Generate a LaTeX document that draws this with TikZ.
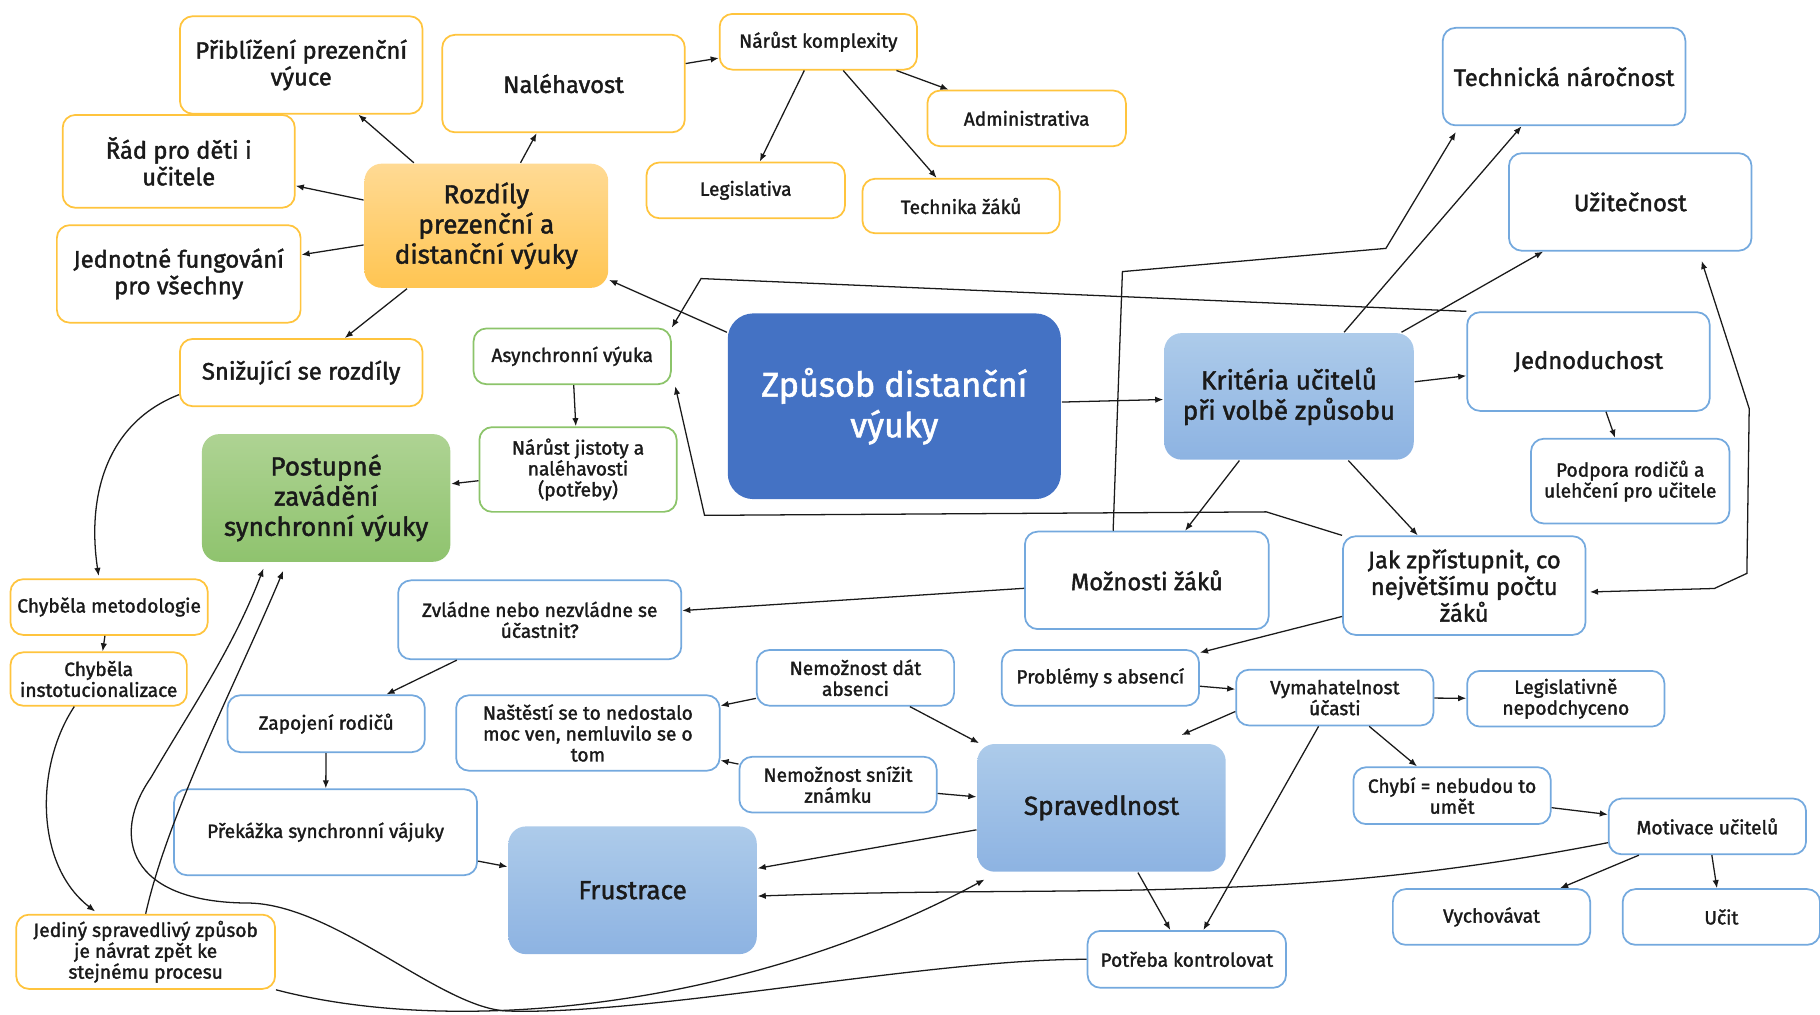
\documentclass[tikz,border=0pt]{standalone}
\usepackage{fontspec}
\setmainfont{Fira Sans}[FakeBold=1.6]
\usetikzlibrary{arrows.meta,calc}

\definecolor{ornline}{HTML}{FFC43D}
\definecolor{bluline}{HTML}{74A9DE}
\definecolor{grnline}{HTML}{8CC46A}
\definecolor{orntop}{HTML}{FFDA94}
\definecolor{ornbot}{HTML}{FFC552}
\definecolor{grntop}{HTML}{AED393}
\definecolor{grnbot}{HTML}{8FC36E}
\definecolor{blutop}{HTML}{ADCBEA}
\definecolor{blubot}{HTML}{8DB3E2}
\definecolor{deepblue}{HTML}{4472C4}
\definecolor{ink}{HTML}{1A1A1A}

\tikzset{
  box/.style={rounded corners=11pt, line width=1.5pt, align=center, inner sep=2pt, text=ink},
  obox/.style={box, draw=ornline, fill=white},
  bbox/.style={box, draw=bluline, fill=white},
  gbox/.style={box, draw=grnline, fill=white},
  ofill/.style={box, rounded corners=15pt, draw=none, top color=orntop, bottom color=ornbot},
  gfill/.style={box, rounded corners=15pt, draw=none, top color=grntop, bottom color=grnbot},
  bfill/.style={box, rounded corners=15pt, draw=none, top color=blutop, bottom color=blubot},
  fs/.style={font=\fontsize{16.5}{18}\selectfont},
  fm/.style={font=\fontsize{20.5}{23}\selectfont},
  fl/.style={font=\fontsize{22.5}{26}\selectfont},
  fh/.style={font=\fontsize{29.5}{35}\selectfont},
  arr/.style={line width=1.1pt, draw=ink, -{Latex[length=7pt,width=5.5pt]}},
  dbl/.style={line width=1.1pt, draw=ink, {Latex[length=7pt,width=5.5pt]}-{Latex[length=7pt,width=5.5pt]}},
}

\begin{document}
\begin{tikzpicture}[x=1pt,y=-1pt]
\useasboundingbox (0,0) rectangle (1568,874);

% --- differences between in-person and distance teaching (orange)
\node[obox,fm,minimum width=209pt,minimum height=84pt] (pribl) at (259.5,56) {Přiblížení prezenční\\výuce};
\node[obox,fm,minimum width=209pt,minimum height=84pt] (nal) at (485.5,72) {Naléhavost};
\node[obox,fs,minimum width=170pt,minimum height=48pt] (narust) at (705,36) {Nárůst komplexity};
\node[obox,fs,minimum width=171pt,minimum height=48pt] (admin) at (884.5,102) {Administrativa};
\node[obox,fs,minimum width=171pt,minimum height=48pt] (legis) at (642.5,164) {Legislativa};
\node[obox,fs,minimum width=170pt,minimum height=47pt] (techz) at (828,177.5) {Technika žáků};
\node[obox,fm,minimum width=200pt,minimum height=80pt] (rad) at (154,139) {Řád pro děti i\\učitele};
\node[ofill,fl,minimum width=210pt,minimum height=107pt] (rozd) at (419,194.5) {Rozdíly\\prezenční a\\distanční výuky};
\node[obox,fm,minimum width=210pt,minimum height=84pt] (jedn) at (154,236) {Jednotné fungování\\pro všechny};
\node[obox,fm,minimum width=209pt,minimum height=58pt] (sniz) at (259.5,321) {Snižující se rozdíly};
\node[obox,fs,minimum width=170pt,minimum height=48pt] (chmet) at (94,523) {Chyběla metodologie};
\node[obox,fs,minimum width=152pt,minimum height=46pt] (chinst) at (85,585) {Chyběla\\instotucionalizace};
\node[obox,fs,minimum width=223pt,minimum height=64pt] (jediny) at (125.5,820) {Jediný spravedlivý způsob\\je návrat zpět ke\\stejnému procesu};

% --- synchronous teaching (green)
\node[gbox,fs,minimum width=170pt,minimum height=48pt] (async) at (493,307) {Asynchronní výuka};
\node[gbox,fs,minimum width=170pt,minimum height=73pt] (jist) at (498,404.5) {Nárůst jistoty a\\naléhavosti\\(potřeby)};
\node[gfill,fl,minimum width=214pt,minimum height=110pt] (post) at (281,429) {Postupné\\zavádění\\synchronní výuky};

% --- central topic
\node[box,rounded corners=22pt,draw=none,fill=deepblue,text=white,fh,minimum width=287pt,minimum height=160pt] (zpus) at (770.5,350) {Způsob distanční\\výuky};

% --- teachers' criteria (blue)
\node[bfill,fl,minimum width=215pt,minimum height=109pt] (krit) at (1110.5,341.5) {Kritéria učitelů\\při volbě způsobu};
\node[bbox,fm,minimum width=209pt,minimum height=84pt] (tech) at (1347.5,66) {Technická náročnost};
\node[bbox,fm,minimum width=209pt,minimum height=84pt] (uzit) at (1404.5,174) {Užitečnost};
\node[bbox,fm,minimum width=209pt,minimum height=85pt] (jedno) at (1368.5,311.5) {Jednoduchost};
\node[bbox,fs,minimum width=171pt,minimum height=73pt] (podp) at (1404.5,414.5) {Podpora rodičů a\\ulehčení pro učitele};
\node[bbox,fm,minimum width=209pt,minimum height=85pt] (jak) at (1261.5,504.5) {Jak zpřístupnit, co\\největšímu počtu\\žáků};
\node[bbox,fm,minimum width=210pt,minimum height=84pt] (mozn) at (988,500) {Možnosti žáků};
\node[bbox,fs,minimum width=244pt,minimum height=68pt] (zvl) at (465,534) {Zvládne nebo nezvládne se\\účastnit?};
\node[bbox,fs,minimum width=170pt,minimum height=49pt] (zap) at (281,623.5) {Zapojení rodičů};
\node[bbox,fs,minimum width=227pt,minimum height=65pt] (nast) at (506.5,631.5) {Naštěstí se to nedostalo\\moc ven, nemluvilo se o\\tom};
\node[bbox,fs,minimum width=170pt,minimum height=48pt] (nemd) at (737,584) {Nemožnost dát\\absenci};
\node[bbox,fs,minimum width=170pt,minimum height=48pt] (nems) at (722,676) {Nemožnost snížit\\známku};
\node[bbox,fs,minimum width=170pt,minimum height=48pt] (prob) at (948,584) {Problémy s absencí};
\node[bbox,fs,minimum width=170pt,minimum height=48pt] (vym) at (1150,601) {Vymahatelnost\\účasti};
\node[bbox,fs,minimum width=170pt,minimum height=48pt] (legn) at (1349,602) {Legislativně\\nepodchyceno};
\node[bbox,fs,minimum width=170pt,minimum height=49pt] (chybi) at (1251,685.5) {Chybí = nebudou to\\umět};
\node[bbox,fs,minimum width=170pt,minimum height=48pt] (motiv) at (1471,712) {Motivace učitelů};
\node[bbox,fs,minimum width=170pt,minimum height=48pt] (vych) at (1285,790) {Vychovávat};
\node[bbox,fs,minimum width=170pt,minimum height=48pt] (ucit) at (1483,790) {Učit};
\node[bfill,fl,minimum width=214pt,minimum height=110pt] (sprav) at (949,696) {Spravedlnost};
\node[bfill,fl,minimum width=214pt,minimum height=110pt] (frus) at (545,767) {Frustrace};
\node[bbox,fs,minimum width=261pt,minimum height=74pt] (prek) at (280.5,717) {Překážka synchronní vájuky};
\node[bbox,fs,minimum width=171pt,minimum height=49pt] (potr) at (1022.5,826.5) {Potřeba kontrolovat};

% --- straight connectors
\draw[arr] (rozd) -- (pribl);
\draw[arr] (rozd) -- (nal);
\draw[arr] (rozd) -- (rad);
\draw[arr] (rozd) -- (jedn);
\draw[arr] (rozd) -- (sniz);
\draw[arr] (nal) -- (narust);
\draw[arr] (narust) -- (legis);
\draw[arr] (narust) -- (techz);
\draw[arr] (narust) -- (admin);
\draw[arr] (zpus) -- (rozd);
\draw[arr] (zpus) -- (krit);
\draw[arr] (krit) -- (tech);
\draw[arr] (krit) -- (uzit);
\draw[arr] (krit) -- (jedno);
\draw[arr] (krit) -- (mozn);
\draw[arr] (krit) -- (jak);
\draw[arr] (jedno) -- (podp);
\draw[arr] (async) -- (jist);
\draw[arr] (jist) -- (post);
\draw[arr] (mozn) -- (zvl);
\draw[arr] (jak) -- (prob);
\draw[arr] (zvl) -- (zap);
\draw[arr] (zap) -- (prek);
\draw[arr] (prek) -- (frus);
\draw[arr] (sprav) -- (frus);
\draw[arr] (nemd) -- (nast);
\draw[arr] (nemd) -- (sprav);
\draw[arr] (nems) -- (nast);
\draw[arr] (nems) -- (sprav);
\draw[arr] (prob) -- (vym);
\draw[arr] (vym) -- (legn);
\draw[arr] (vym) -- (chybi);
\draw[arr] (vym) -- (potr);
\draw[arr] (sprav) -- (potr);
\draw[arr] (chybi) -- (motiv);
\draw[arr] (motiv) -- (vych);
\draw[arr] (motiv) -- (ucit);
\draw[arr] (chmet) -- (chinst);
\draw[arr] ([yshift=-12pt]vym.west) -- ([xshift=69pt,yshift=7pt]sprav.north);
\draw[arr] ([yshift=-14pt]motiv.west) to[out=191,in=2] ([yshift=-5pt]frus.east);

% --- bent connectors
\draw[arr] (jedno.north west) -- (604,240) -- (async.north east);
\draw[arr] ([xshift=-29pt]mozn.north) -- (967,234) -- (1194,214) -- ([xshift=12pt,yshift=-5pt]tech.south west);
\draw[arr] (jak.north west) -- (1091,441) -- (607,444) -- ([xshift=3pt,yshift=-1pt]async.south east);
\draw[dbl] ([xshift=61.5pt,yshift=-8pt]uzit.south) -- (1507,352) -- (1505,494) -- (1477,507) -- ([xshift=3pt,yshift=-5.5pt]jak.east);

% --- curved connectors
\draw[arr] ([yshift=-19pt]sniz.west) .. controls (90,365) and (75,430) .. ([xshift=-9pt,yshift=2pt]chmet.north);
\draw[arr] ([xshift=-21pt]chinst.south) .. controls (30,660) and (30,745) .. ([xshift=-43.5pt,yshift=2pt]jediny.north);
\draw[arr] (jediny.north) .. controls (145,700) and (205,585) .. ([xshift=-37pt,yshift=-7pt]post.south);
\draw[arr] (potr.west) .. controls (800,826) and (560,875) .. (437,871)
   .. controls (380,869) and (290,780) .. (215,778)
   .. controls (110,778) and (95,720) .. (130,670)
   .. controls (165,610) and (200,560) .. ([xshift=-54pt,yshift=-5pt]post.south);
\draw[arr] (jediny.south east) .. controls (400,895) and (650,865) .. ([xshift=7pt,yshift=-6pt]sprav.south west);
\end{tikzpicture}
\end{document}
